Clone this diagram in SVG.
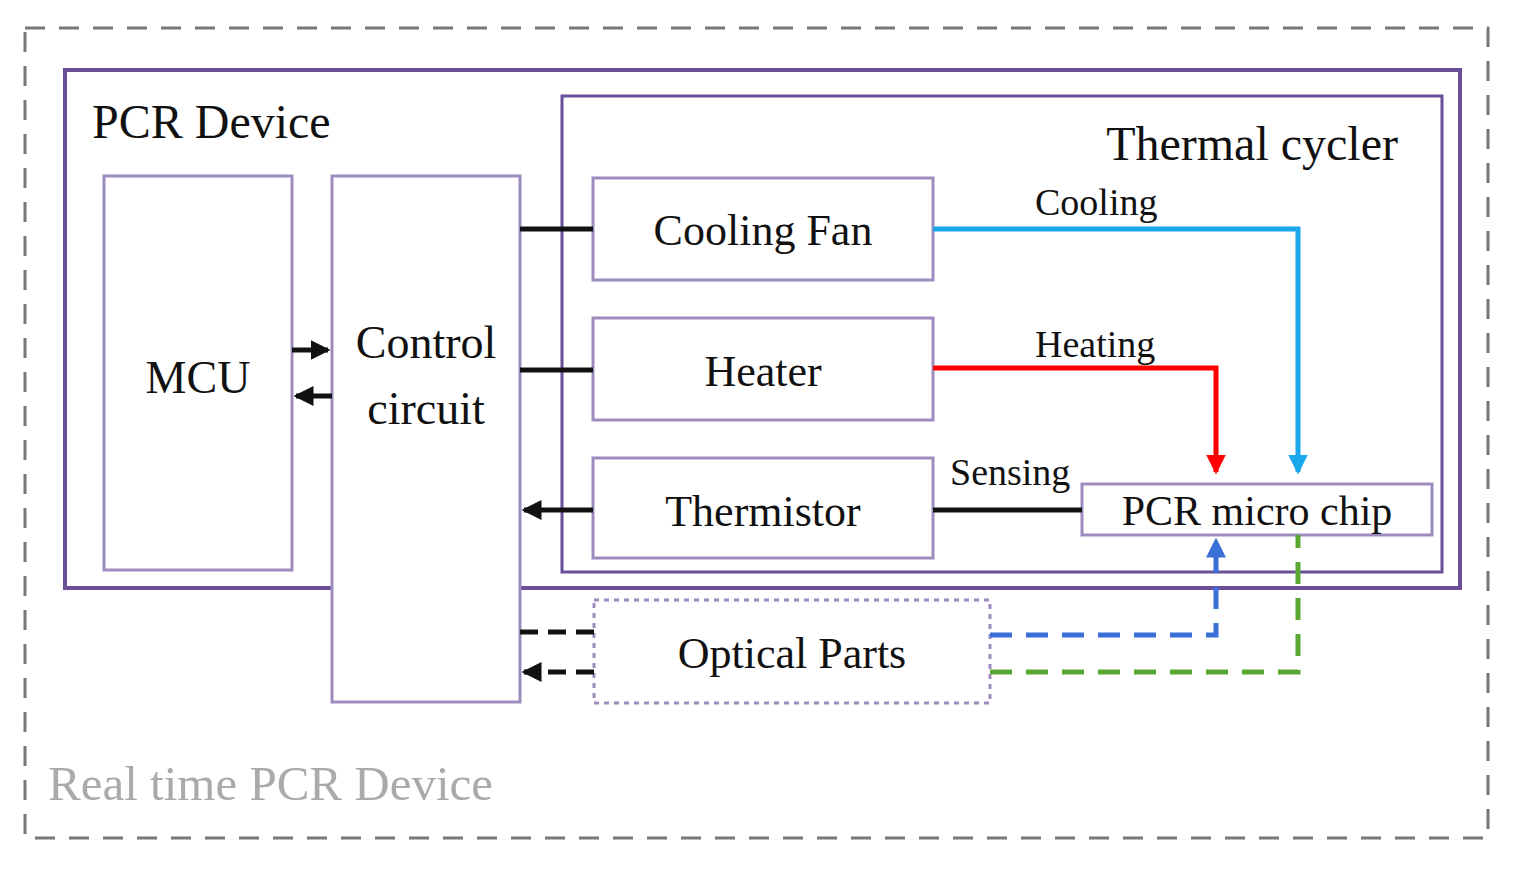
<svg xmlns="http://www.w3.org/2000/svg" width="1520" height="873" viewBox="0 0 1520 873">
<style>
text{font-family:"Liberation Serif",serif;fill:#111}
.box{fill:#fff;stroke:#9e8cbf;stroke-width:3}
.k{stroke:#111;stroke-width:5;fill:none}
</style>
<defs>
<marker id="ak" markerWidth="4" markerHeight="4" refX="3.5" refY="2" orient="auto"><path d="M0,0L4,2L0,4z" fill="#111"/></marker>
<marker id="ar" markerWidth="4" markerHeight="4" refX="3.5" refY="2" orient="auto"><path d="M0,0L4,2L0,4z" fill="#f00"/></marker>
<marker id="ac" markerWidth="4" markerHeight="4" refX="3.5" refY="2" orient="auto"><path d="M0,0L4,2L0,4z" fill="#1aa7ec"/></marker>
<marker id="ab" markerWidth="4" markerHeight="4" refX="3.5" refY="2" orient="auto"><path d="M0,0L4,2L0,4z" fill="#3a6fd8"/></marker>
</defs>
<rect width="1520" height="873" fill="#fff"/>
<g id="realtime"><rect x="25" y="28" width="1463" height="810" fill="none" stroke="#777" stroke-width="3" stroke-dasharray="20,14"/>
<text x="48" y="800" font-size="49" style="fill:#aaa">Real time PCR Device</text></g>
<g id="pcrdevice"><rect x="65" y="70" width="1395" height="518" fill="none" stroke="#6a4e98" stroke-width="4"/>
<text x="92" y="138" font-size="48">PCR Device</text></g>
<g id="thermal"><rect x="562" y="96" width="880" height="476" fill="none" stroke="#6a4e98" stroke-width="3"/>
<text x="1398" y="160" font-size="48" text-anchor="end">Thermal cycler</text></g>
<g id="mcu"><rect class="box" x="104" y="176" width="188" height="394"/><text x="198" y="393" font-size="46" text-anchor="middle">MCU</text></g>
<g id="control"><rect class="box" x="332" y="176" width="188" height="526"/><text x="426" y="358" font-size="46" text-anchor="middle">Control</text><text x="426" y="424" font-size="46" text-anchor="middle">circuit</text></g>
<g id="fan"><rect class="box" x="593" y="178" width="340" height="102"/><text x="763" y="245" font-size="44" text-anchor="middle">Cooling Fan</text></g>
<g id="heater"><rect class="box" x="593" y="318" width="340" height="102"/><text x="763" y="386" font-size="44" text-anchor="middle">Heater</text></g>
<g id="thermistor"><rect class="box" x="593" y="458" width="340" height="100"/><text x="763" y="526" font-size="44" text-anchor="middle">Thermistor</text></g>
<g id="chip"><rect class="box" x="1082" y="484" width="350" height="51"/><text x="1257" y="525" font-size="42" text-anchor="middle">PCR micro chip</text></g>
<g id="optical"><rect x="594" y="600" width="396" height="103" fill="#fff" stroke="#9e8cbf" stroke-width="3" stroke-dasharray="5,5"/><text x="792" y="668" font-size="44" text-anchor="middle">Optical Parts</text></g>
<g id="connectors">
<line class="k" x1="520" y1="229" x2="593" y2="229"/>
<line class="k" x1="520" y1="370" x2="593" y2="370"/>
<line class="k" x1="593" y1="510" x2="524" y2="510" marker-end="url(#ak)"/>
<line class="k" x1="292" y1="350" x2="328" y2="350" marker-end="url(#ak)"/>
<line class="k" x1="332" y1="396" x2="296" y2="396" marker-end="url(#ak)"/>
<line class="k" x1="933" y1="510" x2="1082" y2="510"/>
<polyline points="933,229 1298,229 1298,472" fill="none" stroke="#1aa7ec" stroke-width="5" marker-end="url(#ac)"/>
<polyline points="933,368 1216,368 1216,472" fill="none" stroke="#f00" stroke-width="5" marker-end="url(#ar)"/>
<line class="k" x1="594" y1="632" x2="520" y2="632" stroke-dasharray="18,10"/>
<line class="k" x1="594" y1="672" x2="524" y2="672" stroke-dasharray="18,10" marker-end="url(#ak)"/>
<polyline points="990,635 1216,635 1216,540" fill="none" stroke="#3a6fd8" stroke-width="5" stroke-dasharray="22,14" marker-end="url(#ab)"/>
<polyline points="990,672 1298,672 1298,535" fill="none" stroke="#5aa832" stroke-width="5" stroke-dasharray="22,14"/>
<text x="1035" y="215" font-size="38">Cooling</text>
<text x="1035" y="357" font-size="38">Heating</text>
<text x="950" y="485" font-size="38">Sensing</text>
</g>
</svg>
